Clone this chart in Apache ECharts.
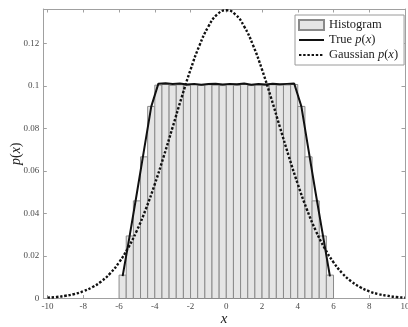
<!DOCTYPE html>
<html>
<head>
<meta charset="utf-8">
<style>
  html, body { margin: 0; padding: 0; background: #fff; }
  #chart { width: 408px; height: 327px; }
</style>
<script src="https://cdn.jsdelivr.net/npm/echarts@6/dist/echarts.min.js"></script>
</head>
<body>
<div id="chart"></div>
<script>
// Histogram bin edges (width 0.4) and pdf-normalised bar heights
const binEdges = [-6.0, -5.6, -5.2, -4.8, -4.4, -4.0, -3.6, -3.2, -2.8, -2.4, -2.0, -1.6, -1.2, -0.8, -0.4, 0.0,
                  0.4, 0.8, 1.2, 1.6, 2.0, 2.4, 2.8, 3.2, 3.6, 4.0, 4.4, 4.8, 5.2, 5.6, 6.0];
const barHeights = [0.0110, 0.0294, 0.0459, 0.0666, 0.0903, 0.1003, 0.1006, 0.1002, 0.1005, 0.1001, 0.1004, 0.1002,
                    0.1005, 0.1003, 0.1001, 0.1004, 0.1002, 0.1006, 0.1001, 0.1004, 0.1002, 0.1005, 0.1003, 0.1004,
                    0.1006, 0.0903, 0.0666, 0.0459, 0.0294, 0.0110];

// True density sampled at the bin centres
const trueX = [-5.8, -5.4, -5.0, -4.6, -4.2, -3.8, -3.4, -3.0, -2.6, -2.2, -1.8, -1.4, -1.0, -0.6, -0.2,
               0.2, 0.6, 1.0, 1.4, 1.8, 2.2, 2.6, 3.0, 3.4, 3.8, 4.2, 4.6, 5.0, 5.4, 5.8];
const trueY = [0.0105, 0.0298, 0.0497, 0.0700, 0.0902, 0.1010, 0.1012, 0.1008, 0.1011, 0.1006, 0.1009, 0.1005,
               0.1008, 0.1010, 0.1006, 0.1009, 0.1007, 0.1011, 0.1005, 0.1008, 0.1006, 0.1010, 0.1007, 0.1009,
               0.1011, 0.0903, 0.0699, 0.0496, 0.0300, 0.0104];

// Gaussian density with matching mean and variance
const gaussX = [-10, -9.5, -9, -8.5, -8, -7.5, -7, -6.5, -6, -5.5, -5, -4.5, -4, -3.5, -3, -2.5, -2, -1.5, -1, -0.5, 0,
                0.5, 1, 1.5, 2, 2.5, 3, 3.5, 4, 4.5, 5, 5.5, 6, 6.5, 7, 7.5, 8, 8.5, 9, 9.5, 10];
const gaussY = [0.0004, 0.0007, 0.0013, 0.0021, 0.0034, 0.0053, 0.0080, 0.0118, 0.0170, 0.0237, 0.0320, 0.0421,
                0.0538, 0.0668, 0.0806, 0.0945, 0.1076, 0.1190, 0.1279, 0.1336, 0.1355,
                0.1336, 0.1279, 0.1190, 0.1076, 0.0945, 0.0806, 0.0668, 0.0538, 0.0421, 0.0320, 0.0237, 0.0170,
                0.0118, 0.0080, 0.0053, 0.0034, 0.0021, 0.0013, 0.0007, 0.0004];

const xTicks = [-10, -8, -6, -4, -2, 0, 2, 4, 6, 8, 10];

const SERIF = '"Liberation Serif", "DejaVu Serif", serif';
const AXIS_GREY = '#a0a0a0';
const LABEL_GREY = '#4a4a4a';

const histData = barHeights.map((h, i) => [binEdges[i], binEdges[i + 1], h]);
const trueData = trueX.map((x, i) => [x, trueY[i]]);
const gaussData = gaussX.map((x, i) => [x, gaussY[i]]);

const X_MIN = -10.24, X_MAX = 10, Y_MAX = 0.1361;

function boxAxisX(show, position) {
  return {
    type: 'value', min: X_MIN, max: X_MAX, position: position,
    axisLine: { show: true, onZero: false, lineStyle: { color: AXIS_GREY, width: 1 } },
    axisTick: { show: true, inside: true, length: 3.5, customValues: xTicks, lineStyle: { color: AXIS_GREY } },
    axisLabel: { show: show, customValues: xTicks, color: LABEL_GREY, fontFamily: SERIF, fontSize: 9, margin: 4,
                 formatter: v => (v < 0 ? '-' : '') + Math.abs(v) },
    splitLine: { show: false }
  };
}
function boxAxisY(show, position) {
  return {
    type: 'value', min: 0, max: Y_MAX, interval: 0.02, position: position,
    axisLine: { show: true, onZero: false, lineStyle: { color: AXIS_GREY, width: 1 } },
    axisTick: { show: true, inside: true, length: 3.5, lineStyle: { color: AXIS_GREY } },
    axisLabel: { show: show, color: LABEL_GREY, fontFamily: SERIF, fontSize: 9, margin: 4,
                 formatter: v => String(parseFloat(v.toFixed(2))), showMaxLabel: false },
    splitLine: { show: false }
  };
}

const xBottom = Object.assign(boxAxisX(true, 'bottom'), {
  name: 'x', nameLocation: 'middle', nameGap: 13, nameMoveOverlap: false,
  nameTextStyle: { fontFamily: SERIF, fontStyle: 'italic', fontSize: 15, color: '#222' }
});
const yLeft = Object.assign(boxAxisY(true, 'left'), {
  name: '{i|p}({i|x})', nameLocation: 'middle', nameGap: 20, nameRotate: 90, nameMoveOverlap: false,
  nameTextStyle: { fontFamily: SERIF, fontSize: 14, color: '#222',
    rich: { i: { fontFamily: SERIF, fontStyle: 'italic', fontSize: 14, color: '#222' } } }
});

const hiddenMarker = { opacity: 0, color: 'transparent', borderWidth: 0 };

const chart = echarts.init(document.getElementById('chart'), null, { renderer: 'canvas' });
chart.setOption({
  animation: false,
  backgroundColor: '#fff',
  grid: { left: 43.3, right: 3, top: 9, bottom: 28.5, containLabel: false, outerBoundsMode: 'none' },
  xAxis: [xBottom, boxAxisX(false, 'top')],
  yAxis: [yLeft, boxAxisY(false, 'right')],
  legend: {
    orient: 'vertical', left: 295, top: 15,
    padding: [3, 6, 3, 3], itemGap: 1, itemWidth: 25, itemHeight: 10,
    backgroundColor: '#fff', borderColor: '#9a9a9a', borderWidth: 1, borderRadius: 0,
    textStyle: { fontFamily: SERIF, fontSize: 12.5, color: '#222', lineHeight: 14,
      rich: { i: { fontFamily: SERIF, fontStyle: 'italic', fontSize: 12.5, color: '#222', lineHeight: 14 } } },
    formatter: name => name.replace('p(x)', '{i|p}({i|x})'),
    data: [
      { name: 'Histogram', icon: 'rect' },
      { name: 'True p(x)', itemStyle: hiddenMarker },
      { name: 'Gaussian p(x)', itemStyle: hiddenMarker }
    ]
  },
  series: [
    {
      name: 'Histogram', type: 'custom', xAxisIndex: 0, yAxisIndex: 0,
      itemStyle: { color: '#e5e5e5', borderColor: '#8a8a8a', borderWidth: 1 },
      encode: { x: [0, 1], y: 2 },
      data: histData,
      renderItem: (params, api) => {
        const p0 = api.coord([api.value(0), api.value(2)]);
        const p1 = api.coord([api.value(1), 0]);
        return {
          type: 'rect',
          shape: { x: p0[0], y: p0[1], width: p1[0] - p0[0], height: p1[1] - p0[1] },
          style: { fill: '#e5e5e5', stroke: '#8a8a8a', lineWidth: 1 }
        };
      }
    },
    {
      name: 'True p(x)', type: 'line', xAxisIndex: 0, yAxisIndex: 0,
      data: trueData, symbol: 'none', color: '#111',
      lineStyle: { color: '#111', width: 2 }
    },
    {
      name: 'Gaussian p(x)', type: 'line', xAxisIndex: 0, yAxisIndex: 0,
      data: gaussData, symbol: 'none', smooth: true, color: '#111',
      lineStyle: { color: '#111', width: 2.4, type: [2.4, 1.8], cap: 'butt' }
    }
  ]
});
</script>
</body>
</html>
